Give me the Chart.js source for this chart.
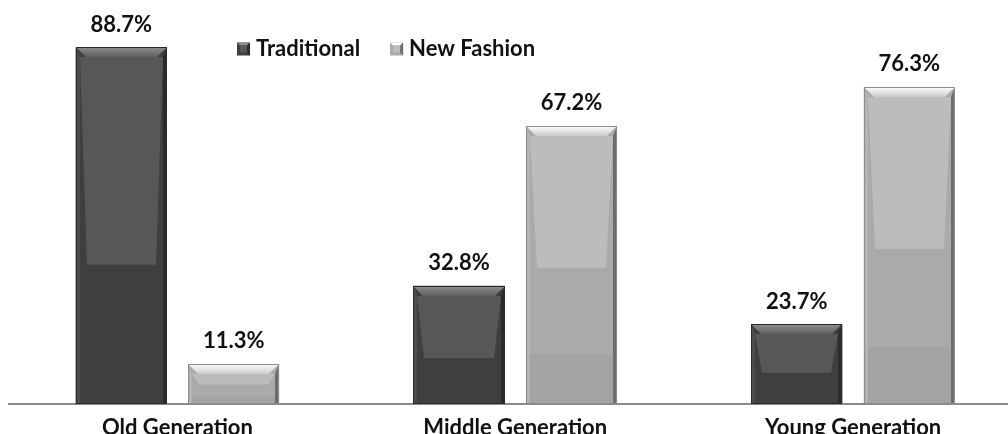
<!DOCTYPE html>
<html>
<head>
<meta charset="utf-8">
<script src="https://cdn.jsdelivr.net/npm/chart.js@4.4.1/dist/chart.umd.min.js"></script>
<style>
  html, body { margin: 0; padding: 0; background: #ffffff; overflow: hidden; }
  #wrap { position: relative; width: 1022px; height: 434px; }
</style>
</head>
<body>
<div id="wrap"><canvas id="chart"></canvas></div>
<script>
// Survey shares by generation
const categories = ['Old Generation', 'Middle Generation', 'Young Generation'];
const seriesNames = ['Traditional', 'New Fashion'];
const traditional = [88.7, 32.8, 23.7];
const newFashion = [11.3, 67.2, 76.3];

const FONT = 'Lato, "Open Sans", sans-serif';

// Shading for the bevelled bars, one palette per series
const palettes = [
  { body: '#3f3f3f', panel: '#575757', panelFrac: 0.61, low: null,
    topA: '#8e8e8e', topB: '#5f5f5f', leftSide: '#4c4c4c', rightSide: '#2b2b2b', edge: '#2a2a2a' },
  { body: '#aaaaaa', panel: '#bcbcbc', panelFrac: 0.51, low: '#a3a3a3',
    topA: '#ffffff', topB: '#cacaca', leftSide: '#b4b4b4', rightSide: '#6c6c6c', edge: '#8c8c8c' }
];

function poly(ctx, pts, fill) {
  ctx.beginPath();
  ctx.moveTo(pts[0][0], pts[0][1]);
  for (let i = 1; i < pts.length; i++) ctx.lineTo(pts[i][0], pts[i][1]);
  ctx.closePath();
  ctx.fillStyle = fill;
  ctx.fill();
}

function bevelBar(ctx, left, right, top, bottom, pal) {
  const w = right - left;
  const h = bottom - top;
  const b = Math.min(10, h / 3, w / 4);
  ctx.fillStyle = pal.body;
  ctx.fillRect(left, top, w, h);
  if (pal.low) {
    ctx.fillStyle = pal.low;
    ctx.fillRect(left, top + h * 0.82, w, h * 0.18);
  }
  const ph = h * pal.panelFrac;
  poly(ctx, [[left + 4, top + b], [right - 4, top + b], [right - 11, top + ph], [left + 11, top + ph]], pal.panel);
  poly(ctx, [[left, top], [left + 4, top + b], [left + 4, bottom], [left, bottom]], pal.leftSide);
  poly(ctx, [[right, top], [right - 4, top + b], [right - 4, bottom], [right, bottom]], pal.rightSide);
  const g = ctx.createLinearGradient(0, top, 0, top + b);
  g.addColorStop(0, pal.topA);
  g.addColorStop(1, pal.topB);
  poly(ctx, [[left, top], [right, top], [right - b, top + b], [left + b, top + b]], g);
  ctx.strokeStyle = pal.edge;
  ctx.lineWidth = 1;
  ctx.strokeRect(left + 0.5, top + 0.5, w - 1, h - 1);
}

// Paints the bevel shading over each bar and writes its value above it
const bevelPlugin = {
  id: 'bevelBars',
  afterDatasetsDraw(chart) {
    const ctx = chart.ctx;
    const area = chart.chartArea;
    chart.data.datasets.forEach((ds, di) => {
      const meta = chart.getDatasetMeta(di);
      const pal = palettes[di];
      ctx.save();
      ctx.beginPath();
      ctx.rect(area.left, area.top, area.right - area.left, area.bottom - area.top);
      ctx.clip();
      meta.data.forEach((bar) => {
        const p = bar.getProps(['x', 'y', 'base', 'width'], true);
        const left = Math.round(p.x - p.width / 2);
        const right = Math.round(p.x + p.width / 2);
        const top = Math.round(p.y);
        const bottom = Math.min(p.base, area.bottom);
        bevelBar(ctx, left, right, top, bottom, pal);
      });
      ctx.restore();
      ctx.save();
      ctx.fillStyle = '#111111';
      ctx.font = 'bold 22px ' + FONT;
      ctx.textAlign = 'center';
      ctx.textBaseline = 'middle';
      meta.data.forEach((bar, i) => {
        const p = bar.getProps(['x', 'y'], true);
        ctx.fillText(ds.data[i].toFixed(1) + '%', p.x, p.y - 23);
      });
      ctx.restore();
    });
  }
};

// Legend drawn inside the plot, to the left of the middle group
const legendPlugin = {
  id: 'innerLegend',
  afterDraw(chart) {
    const ctx = chart.ctx;
    ctx.save();
    ctx.font = 'bold 22px ' + FONT;
    ctx.textBaseline = 'middle';
    let x = 237;
    const cy = 49;
    chart.data.datasets.forEach((ds, di) => {
      const pal = palettes[di];
      const s = 13;
      const top = cy - s / 2;
      ctx.fillStyle = pal.body;
      ctx.fillRect(x, top, s, s);
      poly(ctx, [[x, top], [x + s, top], [x + s - 3, top + 3], [x + 3, top + 3]], pal.topA);
      poly(ctx, [[x + s, top], [x + s, top + s], [x + s - 3, top + s - 3], [x + s - 3, top + 3]], pal.rightSide);
      ctx.fillStyle = pal.panel;
      ctx.fillRect(x + 3, top + 3, s - 6, s - 6);
      ctx.fillStyle = '#111111';
      ctx.fillText(ds.label, x + s + 6, cy);
      x += s + 6 + ctx.measureText(ds.label).width + 30;
    });
    ctx.restore();
  }
};

// Each series sits on its own hidden value axis (same scale, shifted base)
new Chart(document.getElementById('chart'), {
  type: 'bar',
  data: {
    labels: categories,
    datasets: [
      { label: seriesNames[0], data: traditional, yAxisID: 'y', backgroundColor: palettes[0].body, borderWidth: 0 },
      { label: seriesNames[1], data: newFashion, yAxisID: 'y2', backgroundColor: palettes[1].body, borderWidth: 0 }
    ]
  },
  options: {
    responsive: true,
    maintainAspectRatio: false,
    animation: false,
    devicePixelRatio: 1,
    categoryPercentage: 0.666,
    barPercentage: 0.81,
    layout: { padding: { left: 8.5, right: 0, top: 0, bottom: 0 } },
    plugins: { legend: { display: false }, tooltip: { enabled: false } },
    scales: {
      x: {
        grid: { display: false, drawTicks: false },
        border: { display: true, color: '#8a8a8a', width: 2 },
        ticks: { color: '#111111', font: { family: FONT, size: 22, weight: 'bold' }, padding: 11, maxRotation: 0, autoSkip: false },
        afterFit(scale) { scale.height = 30; }
      },
      y: { display: false, min: 5.04, max: 99.83 },
      y2: { display: false, min: 1.95, max: 96.74 }
    }
  },
  plugins: [bevelPlugin, legendPlugin]
});
</script>
</body>
</html>
